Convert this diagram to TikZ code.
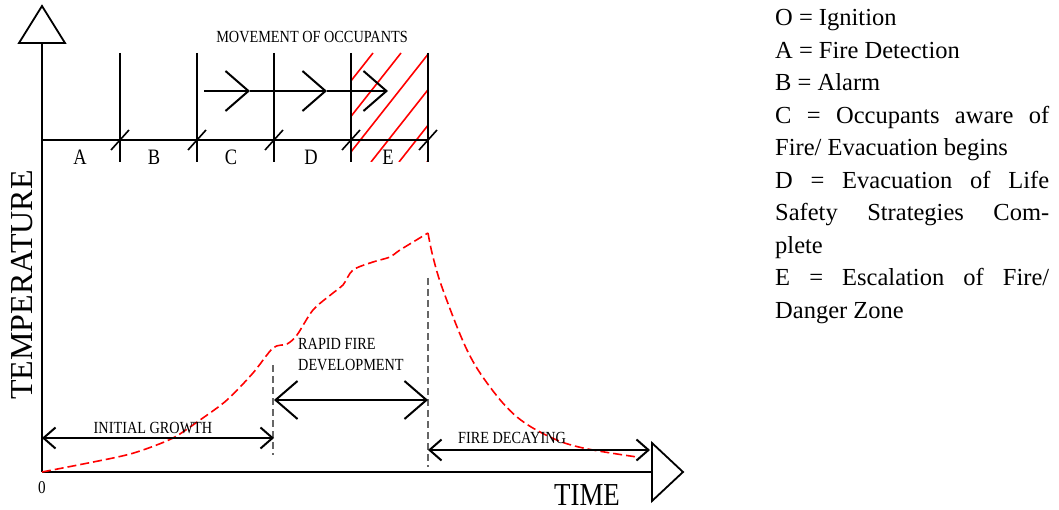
\documentclass[tikz,border=0pt]{standalone}
\usepackage{fontspec}
\setmainfont{Liberation Serif}
\newfontfamily\narrowserif[FakeStretch=0.84]{Liberation Serif}
\usetikzlibrary{arrows.meta}
\definecolor{firered}{HTML}{FF0000}

\tikzset{
  axisline/.style={line width=2pt},
  axishead/.style={line width=1.8pt, fill=white, line join=miter},
  bar/.style={line width=2pt},
  slash/.style={line width=1.6pt},
  hatch/.style={firered, line width=1.6pt},
  firecurve/.style={firered, line width=1.6pt, dash pattern=on 9pt off 4pt},
  guide/.style={black!60, line width=1.1pt, dash pattern=on 7pt off 4pt},
  span/.style={line width=2pt, {Straight Barb[length=12pt,width=21pt]}-{Straight Barb[length=12pt,width=21pt]}},
  widespan/.style={line width=2pt, {Straight Barb[length=22pt,width=38pt]}-{Straight Barb[length=22pt,width=38pt]}},
  move/.style={line width=2pt, -{Straight Barb[length=23pt,width=40pt]}},
  small/.style={font=\narrowserif\fontsize{17}{21}\selectfont, inner sep=0pt},
  period/.style={font=\narrowserif\fontsize{22}{22}\selectfont, inner sep=0pt, anchor=base},
  legend/.style={font=\fontsize{24.5}{32.5}\selectfont, text width=274pt, align=justify, inner sep=0pt},
}

\begin{document}
\begin{tikzpicture}[x=1pt,y=-1pt]
  \useasboundingbox (0,0) rectangle (1059,510);
  \coordinate (O) at (42,472);
  \coordinate (ytop) at (42,43);
  \coordinate (xend) at (652,472);
  % axes
  \draw[axisline] (O) -- (ytop);
  \draw[axisline] (O) -- (xend);
  \draw[axishead] (19,43) -- (65,43) -- (42,6) -- cycle;
  \draw[axishead] (652,443) -- (652,501) -- (683,472) -- cycle;
  \node[font=\fontsize{32}{32}\selectfont, rotate=90, anchor=base, inner sep=0pt] (temp) at (32,285) {TEMPERATURE};
  \node[font=\narrowserif\fontsize{32}{32}\selectfont, anchor=base, inner sep=0pt] (time) at (587,505) {TIME};
  \node[font=\narrowserif\fontsize{18}{18}\selectfont, inner sep=0pt] (zero) at (42,488) {0};
  % danger zone
  \begin{scope}
    \clip (351,53) rectangle (428,162);
    \foreach \t in {373,401,...,513} \draw[hatch] (\t,53) -- (\t-86,162);
  \end{scope}
  % timeline of periods
  \coordinate (t0) at (42,140);
  \coordinate (t5) at (428,140);
  \draw[bar] (t0) -- (t5);
  \foreach \x/\l/\lx in {120/A/80, 197/B/154, 274/C/231, 351/D/311, 428/E/388} {
    \draw[bar] (\x,53) -- (\x,162);
    \draw[slash] (\x-9,150) -- (\x+9,130);
    \node[period] (per\l) at (\lx,165) {\l};
  }
  \node[small, anchor=base] (moving) at (312,43) {MOVEMENT OF OCCUPANTS};
  \coordinate (m0) at (204,91);
  \coordinate (m1) at (250,91);
  \coordinate (m2) at (327,91);
  \coordinate (m3) at (388,91);
  \draw[move] (m0) -- (m1);
  \draw[move] (m1) -- (m2);
  \draw[move] (m2) -- (m3);
  % temperature curve
  \draw[firecurve] plot[smooth, tension=0.5] coordinates {(42,472) (113,458) (140,451) (173,438) (200,420) (227,400) (253,373) (273,348) (287,344) (297,335) (313,310) (333,293) (343,285) (353,270) (373,262) (390,257) (400,250) (428,233)};
  \draw[firecurve] plot[smooth, tension=0.6] coordinates {(428,233) (433,257) (443,290) (467,350) (490,387) (517,417) (550,437) (583,448) (637,457)};
  % stages
  \coordinate (g0) at (42,438);
  \coordinate (g1) at (274,438);
  \coordinate (r0) at (274,400);
  \coordinate (r1) at (428,400);
  \coordinate (d0) at (428,450);
  \coordinate (d1) at (650,450);
  \draw[guide] (273,365) -- (273,455);
  \draw[guide] (428,278) -- (428,467);
  \draw[span] (g0) -- (g1);
  \draw[widespan] (r0) -- (r1);
  \draw[span] (d0) -- (d1);
  \node[small, anchor=base] (growth) at (153,433) {INITIAL GROWTH};
  \node[small, anchor=base west, align=left] (rapid) at (298,370) {RAPID FIRE\\DEVELOPMENT};
  \node[small, anchor=base] (decay) at (512,443) {FIRE DECAYING};
  % key
  \node[legend, anchor=base west] (key) at (775,26) {O = Ignition\\
    A = Fire Detection\\
    B = Alarm\\
    C = Occupants aware of\linebreak Fire/ Evacuation begins\\
    D = Evacuation of Life\linebreak Safety Strategies Com-\linebreak plete\\
    E = Escalation of Fire/\linebreak Danger Zone};
\end{tikzpicture}
\end{document}
